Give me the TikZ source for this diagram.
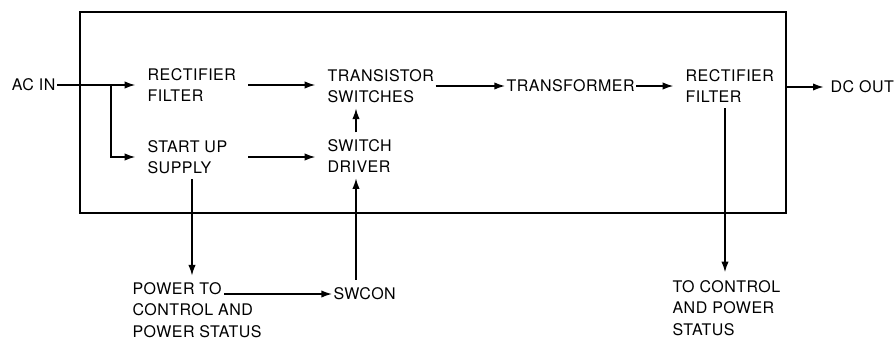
\documentclass[tikz,border=0pt]{standalone}
\usepackage{fontspec}
\setmainfont[LetterSpace=3]{TeX Gyre Heros}
\usetikzlibrary{arrows.meta}

\begin{document}
\begin{tikzpicture}[x=0.75pt,y=-0.75pt,
  lbl/.style={font=\fontsize{12}{16}\selectfont, align=left, anchor=west, inner xsep=1pt, inner ysep=2pt},
  wire/.style={line width=1.1pt},
  flow/.style={wire, -{Latex[length=8pt,width=5.5pt]}}]
  \useasboundingbox (0,0) rectangle (896,339);

  % supply enclosure
  \draw[line width=2.2pt] (80,12) rectangle (786,213);
  \coordinate (frameR) at (786,87);

  \node[lbl,anchor=east] (acin) at (57,85) {AC IN};
  \node[lbl] (rf1) at (146,85) {RECTIFIER\\FILTER};
  \node[lbl] (sus) at (146,157) {START UP\\SUPPLY};
  \node[lbl] (ts) at (326,86) {TRANSISTOR\\SWITCHES};
  \node[lbl] (sd) at (326,156) {SWITCH\\DRIVER};
  \node[lbl] (tf) at (505,86) {TRANSFORMER};
  \node[lbl] (rf2) at (684,86) {RECTIFIER\\FILTER};
  \node[lbl] (dcout) at (829,87) {DC OUT};

  \node[lbl] (pwr) at (131,310) {POWER TO\\CONTROL AND\\POWER STATUS};
  \node[lbl] (swcon) at (332,294) {SWCON};
  \node[lbl] (toctl) at (671,308) {TO CONTROL\\AND POWER\\STATUS};

  \coordinate (split) at (111,85);
  \coordinate (c1) at (192,0);
  \coordinate (c2) at (356,0);
  \coordinate (c3) at (725,0);
  \coordinate (pwrto) at (224,294);

  \draw[wire] (acin.east) -- (split);
  \draw[flow,shorten >=8pt] (split) -- (split -| rf1.west);
  \draw[flow,shorten >=8pt] (split) |- (sus.west);
  \draw[flow,shorten <=8pt,shorten >=8pt] (rf1.east) -- (rf1.east -| ts.west);
  \draw[flow,shorten <=8pt,shorten >=8pt] (sus.east -| rf1.east) -- (sus.east -| sd.west);
  \draw[flow,shorten <=3pt,shorten >=2pt] (sd.north -| c2) -- (ts.south -| c2);
  \draw[flow] (ts.east) -- (ts.east -| tf.west);
  \draw[flow,shorten >=8pt] (tf.east) -- (tf.east -| rf2.west);
  \draw[flow,shorten >=4pt] (frameR) -- (dcout.west);

  \draw[flow,shorten <=2pt,shorten >=3pt] (sus.south -| c1) -- (pwr.north -| c1);
  \draw[flow] (pwrto) -- (pwrto -| swcon.west);
  \draw[flow,shorten <=4pt,shorten >=2pt] (swcon.north -| c2) -- (sd.south -| c2);
  \draw[flow,shorten <=2pt,shorten >=4pt] (rf2.south -| c3) -- (toctl.north -| c3);
\end{tikzpicture}
\end{document}
